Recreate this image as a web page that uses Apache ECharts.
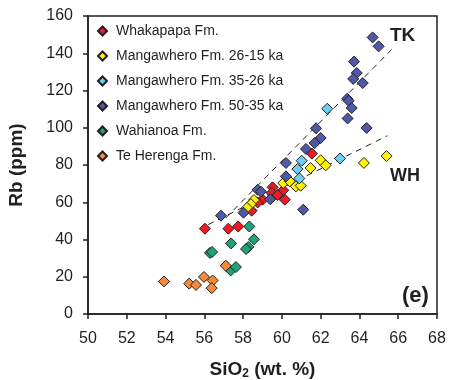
<!DOCTYPE html>
<html>
<head>
<meta charset="utf-8">
<script src="https://cdn.jsdelivr.net/npm/echarts@6/dist/echarts.min.js"></script>
<style>html,body{margin:0;padding:0;background:#fff}#c{width:453px;height:380px}</style>
</head>
<body>
<div id="c"></div>
<script>
var seriesNames = ['Whakapapa Fm.', 'Mangawhero Fm. 26-15 ka', 'Mangawhero Fm. 35-26 ka', 'Mangawhero Fm. 50-35 ka', 'Wahianoa Fm.', 'Te Herenga Fm.'];
var seriesColors = ['#ed1c24', '#fff200', '#6dcff6', '#4f5aa6', '#1fa277', '#f58a3c'];

var whakapapa = [[61.55,86.1],[60.07,66.4],[60.15,61.4],[59.52,68.0],[59.48,65.0],[59.78,63.9],[59.0,61.4],[58.75,59.9],[58.44,55.5],[56.03,45.8],[57.24,45.8],[57.75,47.0]];
var mangawhero2615 = [[65.4,84.8],[64.23,81.1],[62.0,82.5],[62.26,79.8],[61.48,78.4],[60.07,70.3],[60.41,71.2],[60.72,68.5],[60.97,68.9],[58.56,61.2],[58.4,59.0],[58.2,57.0]];
var mangawhero3526 = [[62.34,110.2],[63.0,83.5],[61.02,82.3],[60.8,77.8],[60.9,72.8]];
var mangawhero5035 = [[64.68,148.5],[64.99,143.7],[63.72,135.5],[63.86,129.4],[63.68,126.2],[64.17,124.0],[63.37,115.6],[63.44,114.5],[63.6,110.6],[63.39,105.0],[64.37,99.9],[61.76,99.7],[62.0,94.5],[61.69,91.8],[61.24,88.6],[60.21,81.1],[60.21,73.9],[61.1,56.0],[58.75,66.7],[58.92,65.7],[59.4,61.6],[58.02,54.4],[56.86,52.8]];
var wahianoa = [[58.32,47.0],[58.56,40.1],[57.38,37.9],[58.27,36.0],[58.15,34.9],[56.29,32.8],[56.4,33.3],[57.36,23.4],[57.63,25.2]];
var teHerenga = [[53.92,17.5],[55.22,16.3],[55.57,15.6],[55.98,19.9],[56.43,18.0],[56.38,13.9],[57.11,25.9]];

var trendTK = [[57.1,51.5],[65.66,142.0]];
var trendWH = [[56.2,48.0],[65.44,95.7]];

var xTicks = [50,52,54,56,58,60,62,64,66,68];
var yTicks = [0,20,40,60,80,100,120,140,160];

var allData = [whakapapa, mangawhero2615, mangawhero3526, mangawhero5035, wahianoa, teHerenga];
var ink = '#231f20';
var font = 'Liberation Sans, Arial, sans-serif';

var series = [];
[trendTK, trendWH].forEach(function (d) {
  series.push({type:'line', data:d, symbol:'none', silent:true, z:1,
    lineStyle:{color:ink, width:1, type:[6,5]}});
});
allData.forEach(function (d, i) {
  series.push({type:'scatter', name:seriesNames[i], data:d, symbol:'diamond', symbolSize:11, z:3,
    itemStyle:{color:seriesColors[i], borderColor:ink, borderWidth:1, opacity:1}});
});

var chart = echarts.init(document.getElementById('c'), null, {renderer:'canvas'});
chart.setOption({
  animation:false,
  backgroundColor:'#fff',
  grid:{left:88, right:16, top:16, bottom:66, containLabel:false, outerBoundsMode:'none',
    show:true, borderColor:ink, borderWidth:1.5, backgroundColor:'transparent'},
  legend:{
    data:seriesNames, orient:'vertical', left:97, top:24, padding:0,
    itemWidth:9, itemHeight:9, itemGap:11, icon:'diamond',
    textStyle:{fontFamily:font, fontSize:14, color:ink, padding:[0,0,0,4]}
  },
  xAxis:{
    type:'value', min:xTicks[0], max:xTicks[xTicks.length-1], interval:2,
    splitLine:{show:false},
    axisLine:{show:true, onZero:false, lineStyle:{color:ink, width:1.5}},
    axisTick:{show:true, length:5, lineStyle:{color:ink, width:1.5}},
    axisLabel:{fontFamily:font, fontSize:16, color:ink, margin:17},
    name:'SiO{sub|2} (wt. %)', nameLocation:'middle', nameGap:46,
    nameTextStyle:{fontFamily:font, fontSize:19, fontWeight:'bold', color:ink,
      rich:{sub:{fontFamily:font, fontSize:12, fontWeight:'bold', color:ink, verticalAlign:'bottom', padding:[8,0,0,0]}}}
  },
  yAxis:{
    type:'value', min:yTicks[0], max:yTicks[yTicks.length-1], interval:20,
    splitLine:{show:false},
    axisLine:{show:true, onZero:false, lineStyle:{color:ink, width:1.5}},
    axisTick:{show:true, length:5, lineStyle:{color:ink, width:1.5}},
    axisLabel:{fontFamily:font, fontSize:16, color:ink, margin:15},
    name:'Rb (ppm)', nameLocation:'middle', nameGap:62, nameRotate:90,
    nameTextStyle:{fontFamily:font, fontSize:19, fontWeight:'bold', color:ink}
  },
  graphic:[
    {type:'text', left:390, top:26, style:{text:'TK', font:'bold 19px ' + font, fill:ink}},
    {type:'text', left:390, top:167, style:{text:'WH', font:'bold 18px ' + font, fill:ink}},
    {type:'text', left:402, top:285, style:{text:'(e)', font:'bold 22px ' + font, fill:ink}}
  ],
  series:series
});
</script>
</body>
</html>
